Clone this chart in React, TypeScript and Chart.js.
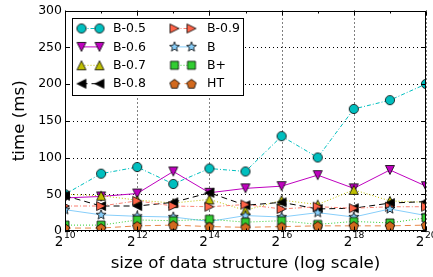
import React, { useEffect, useRef } from 'react';
import { Chart, registerables } from 'chart.js';

Chart.register(...registerables);

// x values are exponents of 2 (size = 2^e)
const exponents = [10, 11, 12, 13, 14, 15, 16, 17, 18, 19, 20];
const xTickExponents = [10, 12, 14, 16, 18, 20];
const yTickValues = [0, 50, 100, 150, 200, 250, 300];

const seriesNames = ['B-0.5', 'B-0.6', 'B-0.7', 'B-0.8', 'B-0.9', 'B', 'B+', 'HT'];
const b05 = [50, 78, 87, 64, 85, 81, 129, 100, 166, 178, 200];
const b06 = [45, 47, 51, 81, 52, 58, 61, 76, 58, 83, 61];
const b07 = [50, 48, 42, 38, 43, 28, 42, 36, 56, 41, 39];
const b08 = [48, 34, 34, 39, 52, 35, 39, 30, 31, 38, 40];
const b09 = [34, 34, 41, 34, 33, 36, 30, 33, 31, 33, 33];
const bTree = [29, 22, 20, 19, 13, 21, 19, 25, 19, 30, 21];
const bPlus = [8, 8, 15, 14, 16, 12, 14, 9, 13, 11, 18];
const ht = [4, 4, 7, 8, 6, 5, 6, 7, 7, 7, 8];
const seriesValues = [b05, b06, b07, b08, b09, bTree, bPlus, ht];

const xTitle = 'size of data structure (log scale)';
const yTitle = 'time (ms)';

type Shape = 'circle' | 'triDown' | 'triUp' | 'triLeft' | 'triRight' | 'star' | 'square' | 'pentagon';
const seriesShapes: Shape[] = ['circle', 'triDown', 'triUp', 'triLeft', 'triRight', 'star', 'square', 'pentagon'];
const markerColors = ['#00bfbf', '#bf00bf', '#bfbf00', '#000000', '#ff6347', '#87cefa', '#32cd32', '#d2691e'];
const lineColors = ['#00bfbf', '#bf00bf', '#bfbf00', '#000000', '#fa8072', '#87cefa', '#32cd32', '#e8884a'];
const lineDashes: number[][] = [[4, 2, 1, 2], [], [1, 2], [6, 4], [4, 2, 1, 2], [], [1, 2], [6, 4]];

const FONT = 'DejaVu Sans';

function makeMarker(shape: Shape, fill: string): HTMLCanvasElement {
  const S = 14;
  const c = document.createElement('canvas');
  c.width = S;
  c.height = S;
  const ctx = c.getContext('2d')!;
  ctx.translate(S / 2, S / 2);
  ctx.beginPath();
  const r = 4.5;
  switch (shape) {
    case 'circle':
      ctx.arc(0, 0, 4.6, 0, Math.PI * 2);
      break;
    case 'triUp':
      ctx.moveTo(0, -r); ctx.lineTo(r, r); ctx.lineTo(-r, r); ctx.closePath();
      break;
    case 'triDown':
      ctx.moveTo(0, r); ctx.lineTo(r, -r); ctx.lineTo(-r, -r); ctx.closePath();
      break;
    case 'triLeft':
      ctx.moveTo(-r, 0); ctx.lineTo(r, -r); ctx.lineTo(r, r); ctx.closePath();
      break;
    case 'triRight':
      ctx.moveTo(r, 0); ctx.lineTo(-r, -r); ctx.lineTo(-r, r); ctx.closePath();
      break;
    case 'square':
      ctx.rect(-4, -4, 8, 8);
      break;
    case 'star': {
      const ro = 5.2, ri = 2.2;
      for (let k = 0; k < 10; k++) {
        const ang = -Math.PI / 2 + (k * Math.PI) / 5;
        const rr = k % 2 === 0 ? ro : ri;
        const px = rr * Math.cos(ang), py = rr * Math.sin(ang);
        if (k === 0) ctx.moveTo(px, py); else ctx.lineTo(px, py);
      }
      ctx.closePath();
      break;
    }
    case 'pentagon': {
      const rp = 4.9;
      for (let k = 0; k < 5; k++) {
        const ang = -Math.PI / 2 + (k * 2 * Math.PI) / 5;
        const px = rp * Math.cos(ang), py = rp * Math.sin(ang) + 0.5;
        if (k === 0) ctx.moveTo(px, py); else ctx.lineTo(px, py);
      }
      ctx.closePath();
      break;
    }
  }
  ctx.fillStyle = fill;
  ctx.fill();
  ctx.lineWidth = 0.8;
  ctx.strokeStyle = '#000';
  ctx.stroke();
  return c;
}

export default function App() {
  const ref = useRef<HTMLCanvasElement | null>(null);

  useEffect(() => {
    document.body.style.margin = '0';
    const canvas = ref.current;
    if (!canvas) return;
    const markers = seriesShapes.map((s, i) => makeMarker(s, markerColors[i]));

    const decor = {
      id: 'decor',
      beforeDatasetsDraw(chart: any) {
        const { ctx, chartArea: a, scales } = chart;
        const x = scales.x, y = scales.y;
        ctx.save();
        ctx.strokeStyle = '#000';
        ctx.lineWidth = 1;
        ctx.setLineDash([1, 3]);
        for (const e of xTickExponents) {
          const px = Math.round(x.getPixelForValue(e)) + 0.5;
          ctx.beginPath(); ctx.moveTo(px, a.top); ctx.lineTo(px, a.bottom); ctx.stroke();
        }
        for (const v of yTickValues) {
          const py = Math.round(y.getPixelForValue(v)) + 0.5;
          ctx.beginPath(); ctx.moveTo(a.left, py); ctx.lineTo(a.right, py); ctx.stroke();
        }
        ctx.restore();
      },
      afterDatasetsDraw(chart: any) {
        const { ctx, chartArea: a, scales } = chart;
        const x = scales.x, y = scales.y;
        ctx.save();
        ctx.setLineDash([]);
        ctx.strokeStyle = '#000';
        ctx.lineWidth = 1;
        const L = Math.round(a.left) + 0.5, R = Math.round(a.right) - 0.5;
        const T = Math.round(a.top) + 0.5, B = Math.round(a.bottom) - 0.5;
        ctx.strokeRect(L, T, R - L, B - T);
        // ticks
        for (const e of exponents) {
          const px = Math.round(x.getPixelForValue(e)) + 0.5;
          const len = xTickExponents.includes(e) ? 4 : 2;
          ctx.beginPath();
          ctx.moveTo(px, B); ctx.lineTo(px, B - len);
          ctx.moveTo(px, T); ctx.lineTo(px, T + len);
          ctx.stroke();
        }
        for (const v of yTickValues) {
          const py = Math.round(y.getPixelForValue(v)) + 0.5;
          ctx.beginPath();
          ctx.moveTo(L, py); ctx.lineTo(L + 4, py);
          ctx.moveTo(R, py); ctx.lineTo(R - 4, py);
          ctx.stroke();
        }
        // x tick labels 2^e
        ctx.fillStyle = '#000';
        ctx.textBaseline = 'alphabetic';
        ctx.textAlign = 'left';
        for (const e of xTickExponents) {
          const px = x.getPixelForValue(e);
          ctx.font = `13.5px "${FONT}"`;
          const w2 = ctx.measureText('2').width;
          ctx.font = `9.2px "${FONT}"`;
          const ws = ctx.measureText(String(e)).width;
          const start = px - (w2 + ws) / 2;
          ctx.font = `13.5px "${FONT}"`;
          ctx.fillText('2', start, a.bottom + 14.5);
          ctx.font = `9.2px "${FONT}"`;
          ctx.fillText(String(e), start + w2 + 0.5, a.bottom + 6.5);
        }
        // legend
        const lx = Math.round(a.left) + 7, ly = Math.round(a.top) + 7;
        const lw = 172, lh = 78;
        ctx.fillStyle = '#fff';
        ctx.fillRect(lx, ly, lw, lh);
        ctx.strokeStyle = '#000';
        ctx.lineWidth = 1;
        ctx.strokeRect(lx + 0.5, ly + 0.5, lw - 1, lh - 1);
        ctx.font = `12.5px "${FONT}"`;
        ctx.textBaseline = 'middle';
        for (let i = 0; i < seriesNames.length; i++) {
          const col = Math.floor(i / 4), row = i % 4;
          const cy = ly + 10.5 + row * 18.4;
          const m1 = lx + (col === 0 ? 9.5 : 102.5);
          const m2 = lx + (col === 0 ? 27.5 : 119.5);
          const tx = lx + (col === 0 ? 41 : 135);
          ctx.save();
          ctx.strokeStyle = lineColors[i];
          ctx.lineWidth = 1;
          ctx.setLineDash(lineDashes[i]);
          ctx.beginPath(); ctx.moveTo(m1, cy); ctx.lineTo(m2, cy); ctx.stroke();
          ctx.restore();
          const mk = markers[i];
          ctx.drawImage(mk, m1 - mk.width / 2, cy - mk.height / 2);
          ctx.drawImage(mk, m2 - mk.width / 2, cy - mk.height / 2);
          ctx.fillStyle = '#000';
          ctx.fillText(seriesNames[i], tx, cy + 0.5);
        }
        ctx.restore();
      },
    };

    const datasets = seriesNames.map((name, i) => ({
      label: name,
      data: exponents.map((e, k) => ({ x: e, y: seriesValues[i][k] })),
      borderColor: lineColors[i],
      backgroundColor: markerColors[i],
      borderWidth: 1,
      borderDash: lineDashes[i],
      pointStyle: markers[i],
      pointRadius: 5,
      pointHoverRadius: 5,
      fill: false,
      tension: 0,
      order: seriesNames.length - 1 - i,
    }));

    const chart = new Chart(canvas, {
      type: 'line',
      data: { datasets },
      options: {
        responsive: false,
        animation: false,
        events: [],
        layout: { padding: { top: 8, right: 7, left: 0, bottom: 0 } },
        plugins: { legend: { display: false }, tooltip: { enabled: false } },
        scales: {
          x: {
            type: 'linear',
            min: 10,
            max: 20,
            ticks: { display: false },
            grid: { display: false, drawTicks: false },
            border: { display: false },
            title: {
              display: true,
              text: xTitle,
              color: '#000',
              font: { family: FONT, size: 16.7 },
              padding: { top: 0, bottom: 3 },
            },
            afterFit: (s: any) => { s.height = 46; },
          },
          y: {
            type: 'linear',
            min: 0,
            max: 300,
            ticks: {
              stepSize: 50,
              color: '#000',
              font: { family: FONT, size: 12.5 },
              padding: 3,
            },
            grid: { display: false, drawTicks: false },
            border: { display: false },
            title: {
              display: true,
              text: yTitle,
              color: '#000',
              font: { family: FONT, size: 16.7 },
              padding: { top: 10, bottom: 0 },
            },
            afterFit: (s: any) => { s.width = 65; },
          },
        },
      },
      plugins: [decor],
    } as any);

    return () => chart.destroy();
  }, []);

  return (
    <div style={{ width: 433, height: 277 }}>
      <canvas ref={ref} width={433} height={277} style={{ display: 'block' }} />
    </div>
  );
}
